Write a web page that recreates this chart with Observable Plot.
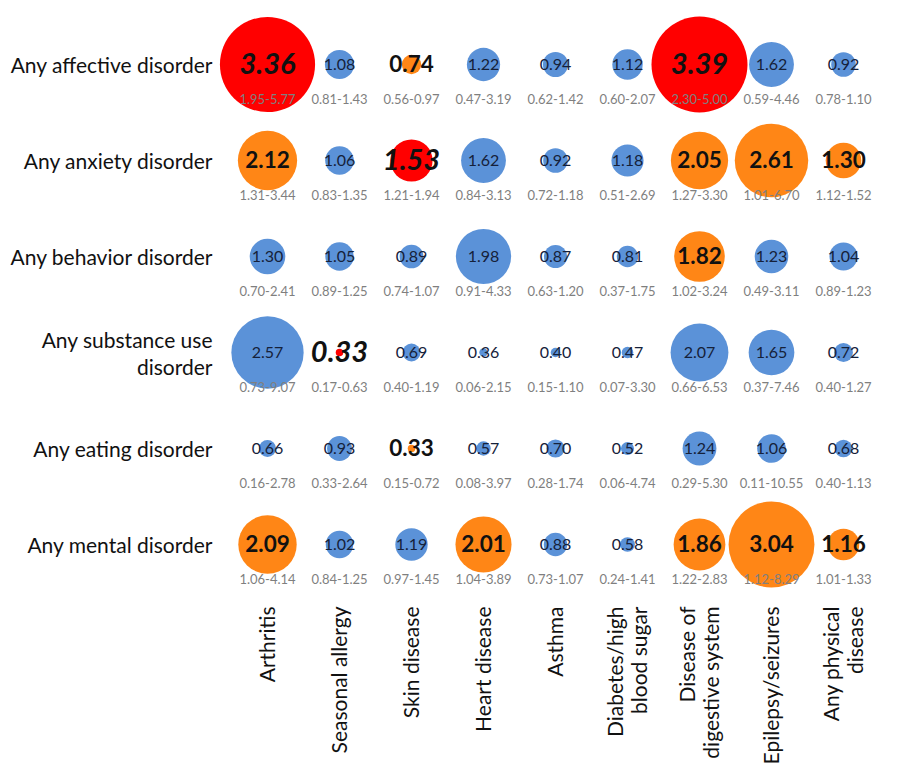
<!DOCTYPE html>
<html><head><meta charset="utf-8">
<script src="https://cdn.jsdelivr.net/npm/d3@7"></script>
<script src="https://cdn.jsdelivr.net/npm/@observablehq/plot@0.6"></script>
<style>body{margin:0;background:#fff;} #chart svg{display:block;}</style>
</head><body><div id="chart"></div>
<script>
const disorders = ["Any affective disorder","Any anxiety disorder","Any behavior disorder","Any substance use disorder","Any eating disorder","Any mental disorder"];
const disorderLabels = ["Any affective disorder","Any anxiety disorder","Any behavior disorder","Any substance use\ndisorder","Any eating disorder","Any mental disorder"];
const diseases = ["Arthritis","Seasonal allergy","Skin disease","Heart disease","Asthma","Diabetes/high blood sugar","Disease of digestive system","Epilepsy/seizures","Any physical disease"];
const diseaseLabels = ["Arthritis","Seasonal allergy","Skin disease","Heart disease","Asthma","Diabetes/high\nblood sugar","Disease of\ndigestive system","Epilepsy/seizures","Any physical\ndisease"];

// odds ratios, one array per disorder row, in disease order
const oddsRatios = [
  [3.36,1.08,0.74,1.22,0.94,1.12,3.39,1.62,0.92],
  [2.12,1.06,1.53,1.62,0.92,1.18,2.05,2.61,1.30],
  [1.30,1.05,0.89,1.98,0.87,0.81,1.82,1.23,1.04],
  [2.57,0.33,0.69,0.36,0.40,0.47,2.07,1.65,0.72],
  [0.66,0.93,0.33,0.57,0.70,0.52,1.24,1.06,0.68],
  [2.09,1.02,1.19,2.01,0.88,0.58,1.86,3.04,1.16]
];
const ciLower = [
  [1.95,0.81,0.56,0.47,0.62,0.60,2.30,0.59,0.78],
  [1.31,0.83,1.21,0.84,0.72,0.51,1.27,1.01,1.12],
  [0.70,0.89,0.74,0.91,0.63,0.37,1.02,0.49,0.89],
  [0.73,0.17,0.40,0.06,0.15,0.07,0.66,0.37,0.40],
  [0.16,0.33,0.15,0.08,0.28,0.06,0.29,0.11,0.40],
  [1.06,0.84,0.97,1.04,0.73,0.24,1.22,1.12,1.01]
];
const ciUpper = [
  [5.77,1.43,0.97,3.19,1.42,2.07,5.00,4.46,1.10],
  [3.44,1.35,1.94,3.13,1.18,2.69,3.30,6.70,1.52],
  [2.41,1.25,1.07,4.33,1.20,1.75,3.24,3.11,1.23],
  [9.07,0.63,1.19,2.15,1.10,3.30,6.53,7.46,1.27],
  [2.78,2.64,0.72,3.97,1.74,4.74,5.30,10.55,1.13],
  [4.14,1.25,1.45,3.89,1.07,1.41,2.83,8.29,1.33]
];
// significance: "ns" not significant, "p" nominally significant, "adj" significant after correction
const significance = [
  ["adj","ns","p","ns","ns","ns","adj","ns","ns"],
  ["p","ns","adj","ns","ns","ns","p","p","p"],
  ["ns","ns","ns","ns","ns","ns","p","ns","ns"],
  ["ns","adj","ns","ns","ns","ns","ns","ns","ns"],
  ["ns","ns","p","ns","ns","ns","ns","ns","ns"],
  ["p","ns","ns","p","ns","ns","p","p","p"]
];
const sigLevels = ["ns","p","adj"];
const sigColors = ["#5b92d8","#ff8616","#ff0000"];

const cells = [];
disorders.forEach((dis, i) => diseases.forEach((phys, j) => cells.push({
  disorder: dis, disease: phys, or: oddsRatios[i][j],
  ci: ciLower[i][j].toFixed(2) + "-" + ciUpper[i][j].toFixed(2),
  sig: significance[i][j]
})));

const dLab = new Map(disorders.map((d,i)=>[d,disorderLabels[i]]));
const pLab = new Map(diseases.map((d,i)=>[d,diseaseLabels[i]]));

const chart = Plot.plot({
  width: 904, height: 773,
  marginLeft: 222, marginRight: 20, marginTop: 10, marginBottom: 171,
  style: {fontFamily: "Lato, 'Open Sans', sans-serif", background: "#fff"},
  x: {type: "point", domain: diseases, range: [265, 845], padding: 0, axis: null},
  y: {type: "point", domain: disorders, range: [62, 546], padding: 0, axis: null},
  r: {type: "linear", domain: [0.07, 3.39], range: [0, 48]},
  color: {domain: sigLevels, range: sigColors},
  marks: [
    Plot.dot(cells, {x: "disease", y: "disorder", r: "or", fill: "sig", stroke: "none"}),
    Plot.text(cells.filter(d => d.sig === "ns"), {x: "disease", y: "disorder", text: d => d.or.toFixed(2), fontSize: 16, fill: "#15213a"}),
    Plot.text(cells.filter(d => d.sig === "p"), {x: "disease", y: "disorder", text: d => d.or.toFixed(2), fontSize: 22.5, fontWeight: "bold", fill: "#111"}),
    Plot.text(cells.filter(d => d.sig === "adj"), {x: "disease", y: "disorder", text: d => d.or.toFixed(2), fontSize: 29, fontWeight: "bold", fontStyle: "italic", fill: "#111"}),
    Plot.text(cells, {x: "disease", y: "disorder", text: "ci", dy: 35, fontSize: 13, fill: "#7f7f7f"}),
    Plot.axisY({anchor: "left", tickSize: 0, tickPadding: 10, fontSize: 21, fill: "#111", lineHeight: 1.3, tickFormat: d => dLab.get(d), label: null}),
    Plot.axisX({anchor: "bottom", tickSize: 0, tickPadding: 4, tickRotate: -90, fontSize: 21, fill: "#111", lineHeight: 1.15, tickFormat: d => pLab.get(d), label: null})
  ]
});
document.getElementById("chart").appendChild(chart);
</script>
</body></html>
